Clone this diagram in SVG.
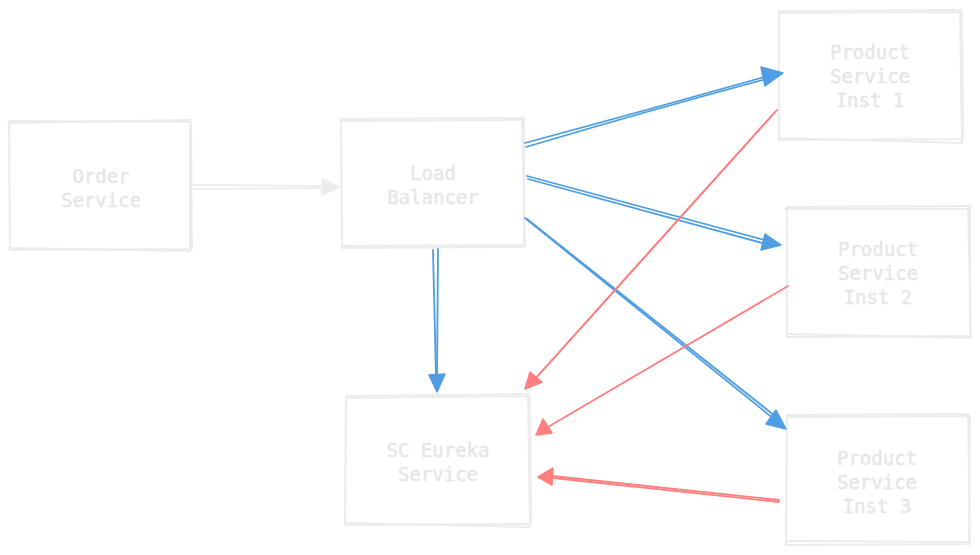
<svg xmlns="http://www.w3.org/2000/svg" width="980" height="555" viewBox="0 0 980 555">
<style>
.box{fill:none;stroke:#ececec;stroke-width:2;stroke-linecap:round;stroke-linejoin:round}
.lbl{font-family:"DejaVu Sans Mono","Liberation Mono",monospace;font-size:19px;fill:#e6e6e6;stroke:#e6e6e6;stroke-width:0.4;text-anchor:middle}
.blue{fill:none;stroke:#4f9ee3;stroke-width:1.8;stroke-linecap:round}
.red{fill:none;stroke:#ff7f7f;stroke-width:1.8;stroke-linecap:round}
.gray{fill:none;stroke:#ececec;stroke-width:1.8;stroke-linecap:round}
.hb{fill:#4f9ee3;stroke:#4f9ee3;stroke-width:1.5;stroke-linejoin:round}
.hr{fill:#ff7f7f;stroke:#ff7f7f;stroke-width:1.5;stroke-linejoin:round}
.hg{fill:#ececec;stroke:#ececec;stroke-width:1.5;stroke-linejoin:round}
</style>
<rect width="980" height="555" fill="#ffffff"/>
<g id="order-service">
<path class="box" d="M9 121 L191 122 L192 249 L10 250 Z"/>
<path class="box" d="M8 123 L190 120 L190 251 L9 248"/>
<text class="lbl" x="101" y="183">Order</text>
<text class="lbl" x="101" y="207">Service</text>
</g>
<g id="load-balancer">
<path class="box" d="M341 119 L524 118 L524 247 L342 248 Z"/>
<path class="box" d="M340 121 L522 120 L525 245 L341 246"/>
<text class="lbl" x="433" y="180">Load</text>
<text class="lbl" x="433" y="204">Balancer</text>
</g>
<g id="product-inst-1">
<path class="box" d="M779 11 L962 10 L963 139 L779 140 Z"/>
<path class="box" d="M780 13 L960 12 L962 143 L778 138"/>
<text class="lbl" x="870" y="59">Product</text>
<text class="lbl" x="870" y="83">Service</text>
<text class="lbl" x="870" y="107">Inst 1</text>
</g>
<g id="product-inst-2">
<path class="box" d="M787 207 L970 206 L970 336 L787 337 Z"/>
<path class="box" d="M785 209 L968 209 L971 338 L788 334"/>
<text class="lbl" x="878" y="256">Product</text>
<text class="lbl" x="878" y="280">Service</text>
<text class="lbl" x="878" y="304">Inst 2</text>
</g>
<g id="product-inst-3">
<path class="box" d="M787 415 L968 414 L970 544 L786 545 Z"/>
<path class="box" d="M789 417 L970 416 L969 542 L788 541"/>
<text class="lbl" x="877" y="465">Product</text>
<text class="lbl" x="877" y="489">Service</text>
<text class="lbl" x="877" y="513">Inst 3</text>
</g>
<g id="sc-eureka-service">
<path class="box" d="M346 396 L530 394 L531 524 L345 525 Z"/>
<path class="box" d="M348 398 L528 396 L530 527 L347 523"/>
<text class="lbl" x="438" y="457">SC Eureka</text>
<text class="lbl" x="438" y="481">Service</text>
</g>
<g id="connectors">
<path class="gray" d="M194 185 L326 186"/>
<path class="gray" d="M194 189 L328 188"/>
<path class="hg" d="M322 179 L340 187 L322 195 Z"/>
<path class="blue" d="M525 143 Q640 112 768 76"/>
<path class="blue" d="M526 147 Q650 110 770 78"/>
<path class="hb" d="M761 67 L783 73 L765 86 Z"/>
<path class="blue" d="M527 176 L768 241"/>
<path class="blue" d="M528 179 L766 244"/>
<path class="hb" d="M765 234 L781 245 L761 250 Z"/>
<path class="blue" d="M525 218 L774 419"/>
<path class="blue" d="M527 219 L775 416"/>
<path class="hb" d="M776 410 L786 429 L766 424 Z"/>
<path class="blue" d="M433 250 L436 378"/>
<path class="blue" d="M438 249 L437 379"/>
<path class="hb" d="M429 375 L437 392 L445 374 Z"/>
<path class="red" d="M777 110 L536 378"/>
<path class="red" d="M775 112 L534 380"/>
<path class="hr" d="M530 372 L525 389 L542 382 Z"/>
<path class="red" d="M788 286 L548 427"/>
<path class="hr" d="M543 419 L536 435 L552 433 Z"/>
<path class="red" d="M779 500 L552 476"/>
<path class="red" d="M779 502 L553 478"/>
<path class="hr" d="M553 468 L538 477 L552 485 Z"/>
</g>
</svg>
